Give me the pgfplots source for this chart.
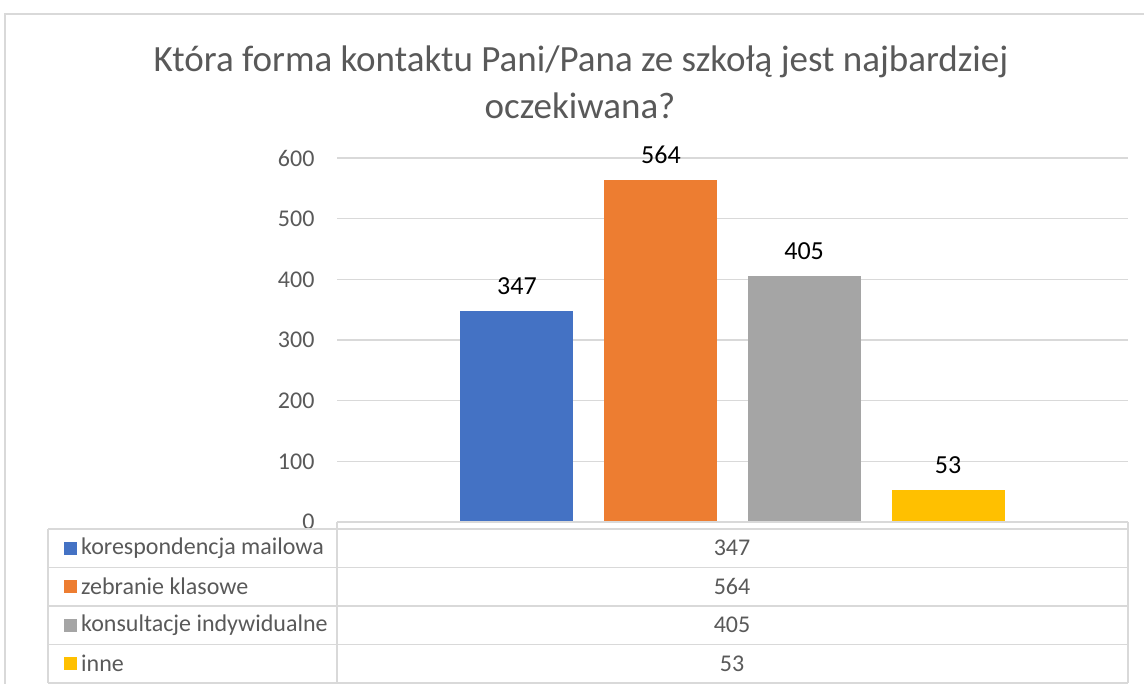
\documentclass[border=0pt]{standalone}
\usepackage{pgfplots}
\pgfplotsset{compat=1.18}
\usepackage{fontspec}
\setmainfont{Carlito}
\definecolor{cblue}{HTML}{4472C4}
\definecolor{corange}{HTML}{ED7D31}
\definecolor{cgray}{HTML}{A5A5A5}
\definecolor{cgold}{HTML}{FFC000}
\definecolor{gridgray}{HTML}{D9D9D9}
\definecolor{txtgray}{HTML}{595959}
\newcommand{\fs}[1]{\fontsize{#1}{#1}\selectfont}

\begin{document}
\begin{tikzpicture}[x=1pt,y=1pt]
\useasboundingbox (0,0) rectangle (1144,684);
% chart frame (cut at right and bottom)
\draw[gridgray, line width=1.5pt] (5,-20) -- (5,670) -- (1160,670);
% title
\node[txtgray, align=center, font=\fs{37}] at (581,622) {Która forma kontaktu Pani/Pana ze szkołą jest najbardziej};
\node[txtgray, align=center, font=\fs{37}] at (580,578) {oczekiwana?};

\begin{axis}[
  at={(337pt,162pt)}, anchor=south west,
  scale only axis, width=791pt, height=364pt,
  xmin=-0.5, xmax=0.5, ymin=0, ymax=600,
  xtick=\empty, ytick={0,100,...,600},
  ymajorgrids, grid style={gridgray, line width=1.5pt},
  axis line style={draw=none}, major tick length=0pt,
  tick label style={font=\fs{24}, txtgray},
  /pgf/number format/assume math mode=true,
  yticklabel style={xshift=-19pt},
  ybar, bar shift=0pt, bar width=0.1429,
  nodes near coords,
  every node near coord/.append style={font=\fs{26}, black, anchor=south, yshift=13pt},
  clip=false,
]
\addplot[fill=cblue, draw=none] coordinates {(-0.2725,347)};
\addplot[fill=corange, draw=none] coordinates {(-0.0905,564)};
\addplot[fill=cgray, draw=none] coordinates {(0.0905,405)};
\addplot[fill=cgold, draw=none] coordinates {(0.2725,53)};
\end{axis}

% data table
\begin{scope}[gridgray, line width=1.5pt]
  \draw (48,155) -- (1128,155);
  \foreach \yy in {116.5,78,39.5,1} \draw (48,\yy) -- (1128,\yy);
  \draw (48,155) -- (48,1);
  \draw (337,162) -- (337,1);
  \draw (1128,162) -- (1128,1);
  \draw (337,162) -- (1128,162);
\end{scope}
\foreach \yc/\col/\lab/\val in {135.75/cblue/korespondencja mailowa/347,
                                97.25/corange/zebranie klasowe/564,
                                58.75/cgray/konsultacje indywidualne/405,
                                20.25/cgold/inne/53} {
  \fill[\col] (64,\yc-6.5) rectangle (77,\yc+6.5);
  \node[anchor=west, inner sep=0pt, txtgray, font=\fs{24}] at (81,\yc) {\lab};
  \node[txtgray, font=\fs{24}] at (732,\yc) {\val};
}
\end{tikzpicture}
\end{document}
